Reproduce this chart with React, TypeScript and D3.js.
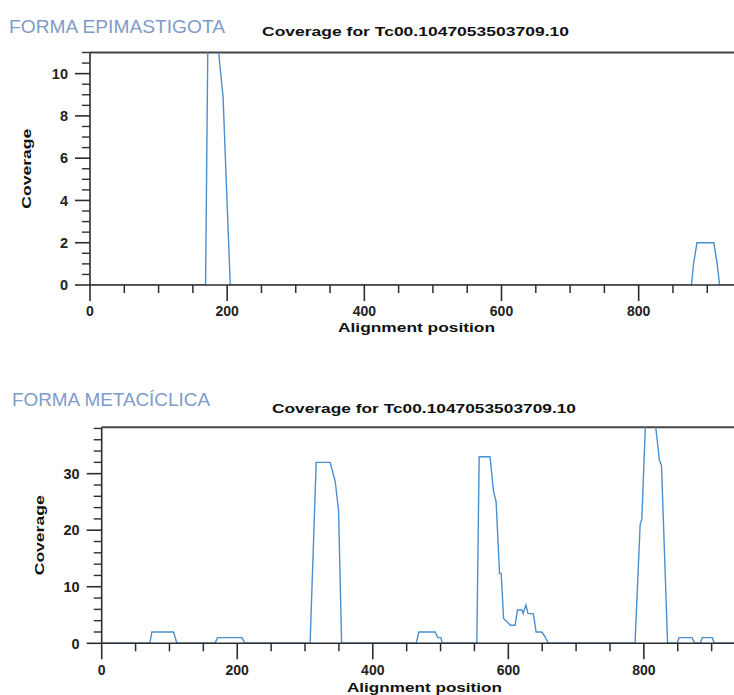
import React from 'react';
import * as d3 from 'd3';

// ---- Data ----
const epiPos = [0, 168.5, 172, 184.5, 194, 204.5, 877, 880, 885, 909.5, 914.5, 918, 939];
const epiCov = [0, 0, 12, 12, 8.9, 0, 0, 1, 2, 2, 1, 0, 0];

const metaPos = [
  0, 71, 74, 106, 111,
  167, 171, 207, 211.5,
  307.5, 316.5, 337, 344.5, 349.5, 354,
  464, 468, 492, 496, 500.5, 502.5,
  553.5, 557, 573, 578, 582, 587, 589.5, 593, 598, 603, 610, 613.5, 620, 622, 626, 629, 637, 641, 649.5, 654, 659,
  787, 794.5, 797, 803, 815, 823, 826, 835,
  849, 852, 871, 875, 883.5, 886, 901, 904, 933,
];
const metaCov = [
  0, 0, 2, 2, 0,
  0, 1, 1, 0,
  0, 32, 32, 28.7, 23.5, 0,
  0, 2, 2, 1, 1, 0,
  0, 33, 33, 27, 25, 12.4, 12.3, 4.4, 3.8, 3.2, 3.2, 5.9, 5.9, 5.3, 6.8, 5.3, 5.2, 2, 2, 1.2, 0,
  0, 21, 22, 41, 41, 32.3, 31.5, 0,
  0, 1, 1, 0, 0, 1, 1, 0, 0,
];

const epiYTicks = [0, 2, 4, 6, 8, 10];
const metaYTicks = [0, 10, 20, 30];
const xTickLabels = [0, 200, 400, 600, 800];

const titleText = 'Coverage for Tc00.1047053503709.10';
const panelNames = ['FORMA EPIMASTIGOTA', 'FORMA METACÍCLICA'];
const xAxisLabel = 'Alignment position';
const yAxisLabel = 'Coverage';

// ---- Layout ----
const W = 734;
const H = 695;
const FONT = '"Liberation Sans", Arial, Helvetica, sans-serif';
const AXIS = '#2e2e2e';
const LINE = '#4a8fd0';
const NAME = '#7f9bc9';

type Cfg = {
  id: string;
  pos: number[];
  cov: number[];
  yTicks: number[];
  name: string;
  x0: number; x1: number; xMax: number;
  yTop: number; yBot: number; yMax: number; yMinor: number;
  nameX: number; nameY: number; nameLen: number;
  titleX: number; titleY: number; titleLen: number;
  ylabX: number;
  xlabX: number; xlabY: number; xlabLen: number;
  tickY: number;
};

const panels: Cfg[] = [
  {
    id: 'epi', pos: epiPos, cov: epiCov, yTicks: epiYTicks, name: panelNames[0],
    x0: 90, x1: 734, xMax: 939,
    yTop: 52.5, yBot: 285, yMax: 11, yMinor: 0.5,
    nameX: 9, nameY: 33, nameLen: 216,
    titleX: 262, titleY: 36, titleLen: 307,
    ylabX: 31,
    xlabX: 338, xlabY: 331.5, xlabLen: 157,
    tickY: 316,
  },
  {
    id: 'meta', pos: metaPos, cov: metaCov, yTicks: metaYTicks, name: panelNames[1],
    x0: 101.7, x1: 734, xMax: 933,
    yTop: 427.3, yBot: 643.3, yMax: 38.2, yMinor: 2,
    nameX: 12, nameY: 406, nameLen: 198,
    titleX: 272, titleY: 413, titleLen: 304,
    ylabX: 44,
    xlabX: 347, xlabY: 691.5, xlabLen: 155,
    tickY: 675,
  },
];

function Panel({ c }: { c: Cfg }) {
  const x = d3.scaleLinear().domain([0, c.xMax]).range([c.x0, c.x1]);
  const y = d3.scaleLinear().domain([0, c.yMax]).range([c.yBot, c.yTop]);
  const pts = c.pos.map((p, i) => [p, c.cov[i]] as [number, number]);
  const line = d3.line<[number, number]>().x(d => x(d[0])).y(d => y(d[1]));
  const xMinor = d3.range(0, c.xMax, 50).filter(v => !xTickLabels.includes(v));
  const yMinor = d3.range(0, c.yMax + 1e-6, c.yMinor).filter(v => !c.yTicks.some(t => Math.abs(t - v) < 1e-6));
  const clipId = `clip-${c.id}`;
  const yMid = (c.yTop + c.yBot) / 2;
  return (
    <g>
      <defs>
        <clipPath id={clipId}>
          <rect x={c.x0} y={c.yTop} width={c.x1 - c.x0} height={c.yBot - c.yTop} />
        </clipPath>
      </defs>
      <text x={c.nameX} y={c.nameY} fontFamily={FONT} fontSize={18} fill={NAME}
        textLength={c.nameLen} lengthAdjust="spacingAndGlyphs">{c.name}</text>
      <text x={c.titleX} y={c.titleY} fontFamily={FONT} fontSize={13.5} fontWeight="bold" fill="#111"
        textLength={c.titleLen} lengthAdjust="spacingAndGlyphs">{titleText}</text>
      <line x1={c.x0} x2={c.x1} y1={c.yTop} y2={c.yTop} stroke="#444" strokeWidth={2} />
      <path d={line(pts) || ''} fill="none" stroke={LINE} strokeWidth={1.4} clipPath={`url(#${clipId})`} />
      <line x1={c.x0} x2={c.x1} y1={c.yBot} y2={c.yBot} stroke={AXIS} strokeWidth={1.6} />
      {xTickLabels.map(v => (
        <g key={`xt${v}`}>
          <line x1={x(v)} x2={x(v)} y1={c.yBot} y2={c.yBot + 16} stroke={AXIS} strokeWidth={1.6} />
          <text x={x(v)} y={c.tickY} textAnchor="middle" fontFamily={FONT} fontSize={14} fontWeight="bold" fill="#222">{v}</text>
        </g>
      ))}
      {xMinor.map(v => (
        <line key={`xm${v}`} x1={x(v)} x2={x(v)} y1={c.yBot} y2={c.yBot + 8} stroke={AXIS} strokeWidth={1.5} />
      ))}
      <line x1={c.x0} x2={c.x0} y1={c.yTop} y2={c.yBot} stroke={AXIS} strokeWidth={1.6} />
      {c.yTicks.map(v => (
        <g key={`yt${v}`}>
          <line x1={c.x0 - 15} x2={c.x0} y1={y(v)} y2={y(v)} stroke={AXIS} strokeWidth={1.6} />
          <text x={c.x0 - 22} y={y(v)} dy="0.36em" textAnchor="end" fontFamily={FONT} fontSize={14.5} fontWeight="bold" fill="#222">{v}</text>
        </g>
      ))}
      {yMinor.map(v => (
        <line key={`ym${v}`} x1={c.x0 - 8} x2={c.x0} y1={y(v)} y2={y(v)} stroke={AXIS} strokeWidth={1.4} />
      ))}
      <text transform={`translate(${c.ylabX},${yMid}) rotate(-90)`} textAnchor="middle" fontFamily={FONT}
        fontSize={13.5} fontWeight="bold" fill="#111" textLength={80} lengthAdjust="spacingAndGlyphs">{yAxisLabel}</text>
      <text x={c.xlabX} y={c.xlabY} fontFamily={FONT} fontSize={13} fontWeight="bold" fill="#111"
        textLength={c.xlabLen} lengthAdjust="spacingAndGlyphs">{xAxisLabel}</text>
    </g>
  );
}

export default function App() {
  return (
    <svg width={W} height={H} viewBox={`0 0 ${W} ${H}`}
      style={{ position: 'absolute', left: 0, top: 0, display: 'block', background: '#fff' }}>
      <rect x={0} y={0} width={W} height={H} fill="#fff" />
      {panels.map(c => <Panel key={c.id} c={c} />)}
    </svg>
  );
}
